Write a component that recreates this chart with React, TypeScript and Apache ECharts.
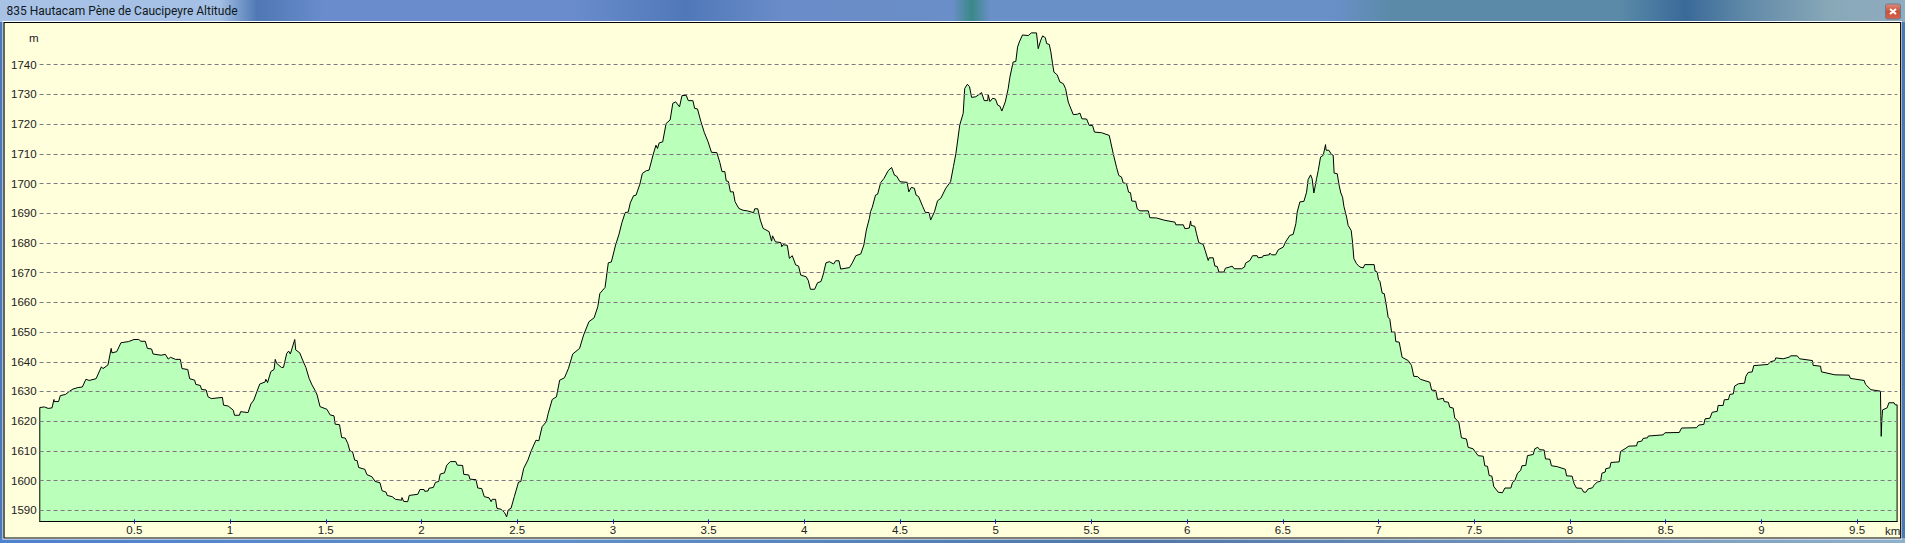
import React, { useEffect, useRef } from "react";
import * as echarts from "echarts";

const W = 1905;
const H = 543;

const titleText = "835 Hautacam Pène de Caucipeyre Altitude";
const yUnit = "m";
const xUnit = "km";

const xMin = 0.005;
const xMax = 9.71;
const yMin = 1586.3;
const yMax = 1754.2;

const yTicks = [1590, 1600, 1610, 1620, 1630, 1640, 1650, 1660, 1670, 1680, 1690, 1700, 1710, 1720, 1730, 1740];
const xTicks = [0.5, 1, 1.5, 2, 2.5, 3, 3.5, 4, 4.5, 5, 5.5, 6, 6.5, 7, 7.5, 8, 8.5, 9, 9.5];

const distances = [
  0.006, 0.03, 0.05, 0.07, 0.08, 0.081, 0.104, 0.113, 0.14, 0.162, 0.179, 0.204, 0.228, 0.247, 0.264, 0.3, 0.328, 0.336, 0.362, 0.379, 0.383, 0.408, 0.43, 0.47, 0.498, 0.523, 0.534, 0.557, 0.568, 0.59, 0.598, 0.64, 0.662, 0.677, 0.689, 0.715, 0.74, 0.749, 0.779, 0.789, 0.815, 0.821, 0.845, 0.851, 0.875, 0.885, 0.902, 0.96, 0.966, 0.99,
  1.017, 1.023, 1.049, 1.055, 1.094, 1.109, 1.124, 1.14, 1.155, 1.183, 1.187, 1.196, 1.213, 1.23, 1.236, 1.243, 1.268, 1.279, 1.296, 1.306, 1.315, 1.338, 1.343, 1.364, 1.379, 1.396, 1.413, 1.428, 1.443, 1.455, 1.47, 1.506, 1.523, 1.543, 1.549, 1.572, 1.583, 1.602, 1.615, 1.626, 1.64, 1.651, 1.664, 1.672, 1.704, 1.715, 1.741, 1.758, 1.783, 1.794, 1.815, 1.821, 1.847, 1.864, 1.896, 1.898, 1.907, 1.928, 1.936, 1.981, 1.992,
  2.013, 2.017, 2.034, 2.039, 2.062, 2.073, 2.09, 2.098, 2.12, 2.132, 2.151, 2.179, 2.187, 2.215, 2.221, 2.247, 2.253, 2.285, 2.294, 2.315, 2.328, 2.353, 2.364, 2.37, 2.387, 2.394, 2.417, 2.434, 2.445, 2.453, 2.468, 2.485, 2.507, 2.519, 2.534, 2.556, 2.573, 2.598, 2.613, 2.63, 2.652, 2.662, 2.683, 2.705, 2.722, 2.747, 2.768, 2.79, 2.826, 2.847, 2.875, 2.902,
  2.921, 2.932, 2.959, 2.976, 2.992, 3.014, 3.031, 3.047, 3.064, 3.08, 3.091, 3.108, 3.121, 3.141, 3.154, 3.174, 3.189, 3.211, 3.225, 3.233, 3.242, 3.26, 3.278, 3.299, 3.313, 3.328, 3.348, 3.361, 3.383, 3.394, 3.418, 3.427, 3.442, 3.46, 3.478, 3.497, 3.515, 3.543, 3.559, 3.57, 3.585, 3.592, 3.603, 3.614, 3.629, 3.638, 3.658, 3.68, 3.702, 3.735, 3.741, 3.757, 3.77, 3.785, 3.816, 3.829, 3.834, 3.849, 3.878, 3.882, 3.889, 3.911, 3.922, 3.937, 3.955, 3.97, 3.981,
  4.01, 4.021, 4.032, 4.054, 4.069, 4.087, 4.098, 4.113, 4.131, 4.153, 4.164, 4.181, 4.19, 4.236, 4.251, 4.269, 4.295, 4.311, 4.324, 4.34, 4.346, 4.355, 4.372, 4.383, 4.399, 4.416, 4.438, 4.456, 4.471, 4.482, 4.5, 4.537, 4.546, 4.559, 4.575, 4.584, 4.597, 4.619, 4.632, 4.652, 4.66, 4.68, 4.696, 4.713, 4.739, 4.764, 4.779, 4.792, 4.812, 4.83, 4.838, 4.852, 4.863, 4.874, 4.896, 4.926, 4.94, 4.958, 4.961, 4.97, 4.984, 4.999,
  5.01, 5.021, 5.032, 5.05, 5.065, 5.074, 5.091, 5.105, 5.114, 5.123, 5.14, 5.17, 5.186, 5.213, 5.222, 5.234, 5.245, 5.259, 5.266, 5.28, 5.288, 5.297, 5.304, 5.321, 5.335, 5.353, 5.365, 5.379, 5.405, 5.426, 5.44, 5.45, 5.475, 5.488, 5.506, 5.516, 5.553, 5.593, 5.614, 5.631, 5.643, 5.657, 5.666, 5.683, 5.694, 5.704, 5.711, 5.731, 5.739, 5.753, 5.797, 5.805, 5.84, 5.884, 5.936, 5.941, 5.98, 5.988,
  6.011, 6.018, 6.021, 6.04, 6.049, 6.061, 6.084, 6.094, 6.11, 6.115, 6.136, 6.145, 6.157, 6.166, 6.192, 6.2, 6.223, 6.235, 6.246, 6.284, 6.3, 6.305, 6.328, 6.342, 6.366, 6.371, 6.394, 6.397, 6.429, 6.432, 6.441, 6.462, 6.476, 6.502, 6.514, 6.536, 6.554, 6.568, 6.575, 6.589, 6.61, 6.624, 6.632, 6.645, 6.653, 6.662, 6.676, 6.685, 6.697, 6.711, 6.723, 6.726, 6.74, 6.754, 6.763, 6.768, 6.784, 6.794, 6.803, 6.812, 6.819, 6.833, 6.841, 6.857, 6.864, 6.871, 6.885, 6.902, 6.92, 6.928, 6.977, 6.982, 6.993,
  7.0, 7.007, 7.019, 7.03, 7.042, 7.05, 7.059, 7.068, 7.085, 7.09, 7.108, 7.123, 7.155, 7.172, 7.184, 7.204, 7.219, 7.268, 7.277, 7.299, 7.308, 7.338, 7.343, 7.364, 7.372, 7.39, 7.398, 7.419, 7.433, 7.459, 7.468, 7.494, 7.52, 7.547, 7.555, 7.569, 7.578, 7.592, 7.602, 7.625, 7.647, 7.66, 7.691, 7.7, 7.712, 7.726, 7.742, 7.749, 7.769, 7.778, 7.808, 7.816, 7.832, 7.842, 7.865, 7.872, 7.895, 7.903, 7.933, 7.976, 7.982,
  8.011, 8.022, 8.034, 8.06, 8.072, 8.083, 8.095, 8.118, 8.125, 8.142, 8.16, 8.167, 8.184, 8.187, 8.208, 8.214, 8.257, 8.264, 8.287, 8.308, 8.348, 8.353, 8.375, 8.382, 8.405, 8.409, 8.487, 8.496, 8.571, 8.583, 8.661, 8.673, 8.699, 8.706, 8.731, 8.743, 8.769, 8.774, 8.8, 8.806, 8.828, 8.835, 8.853, 8.86, 8.88, 8.912, 8.919, 8.931, 8.952, 8.96,
  9.035, 9.047, 9.07, 9.075, 9.114, 9.148, 9.152, 9.187, 9.2, 9.267, 9.27, 9.309, 9.314, 9.384, 9.458, 9.465, 9.537, 9.544, 9.572, 9.622, 9.624, 9.626, 9.629, 9.633, 9.657, 9.666, 9.693, 9.699, 9.709,
];

const altitudes = [
  1624.6, 1624.8, 1624.3, 1624.5, 1627.3, 1626.6, 1626.6, 1628.6, 1629, 1630.1, 1630.8, 1631.3, 1631.5, 1634.1, 1633.7, 1634.3, 1638.3, 1637.7, 1638.9, 1644.5, 1643, 1643.4, 1646.4, 1646.8, 1647.5, 1647.5, 1646.9, 1646.9, 1644.5, 1644.3, 1642.6, 1642.2, 1642.5, 1640.9, 1641.5, 1640.8, 1640.8, 1637.7, 1637.4, 1634.3, 1633.8, 1632.4, 1632, 1630.7, 1630.5, 1628.2, 1627.6, 1628, 1625.4, 1625.1,
  1623.7, 1622, 1622, 1623.2, 1622.9, 1625.8, 1627.1, 1629.9, 1632.5, 1633.2, 1634.1, 1633, 1636.7, 1637.4, 1640.8, 1639.5, 1638.1, 1638.1, 1642.8, 1643.6, 1642.6, 1647.5, 1644, 1643, 1640.6, 1638.1, 1634.4, 1632.2, 1630.5, 1628.8, 1624.9, 1624, 1622.1, 1621.8, 1619, 1618.8, 1614.5, 1614.3, 1612.5, 1610, 1609.7, 1606.9, 1606.7, 1604.4, 1603.8, 1602, 1601.3, 1599.7, 1599.3, 1596.6, 1596.1, 1595, 1594.6, 1593.7, 1593.4, 1594.3, 1593, 1592.9, 1595, 1595.4, 1597,
  1597, 1596.4, 1596.5, 1597.4, 1597.7, 1599.4, 1599.7, 1602.2, 1602.6, 1605.2, 1606.4, 1606.4, 1605.2, 1605.1, 1602.1, 1601.9, 1600.5, 1600.3, 1597.5, 1597.3, 1594.6, 1594.2, 1592.9, 1593.7, 1593.7, 1590.7, 1590.3, 1589.2, 1587.8, 1590.1, 1590.7, 1594.6, 1599.5, 1599.7, 1604.1, 1606.9, 1610, 1613.6, 1613.4, 1618.1, 1619.8, 1622.6, 1627.3, 1628.2, 1633.8, 1634.6, 1637.8, 1642.6, 1644.5, 1649, 1653.5, 1654.8,
  1658.5, 1663, 1665, 1673.3, 1673.6, 1679.3, 1682.7, 1686.8, 1690.2, 1690.4, 1693.5, 1695.9, 1696.1, 1699.8, 1703.4, 1704.3, 1704.5, 1709.9, 1712.9, 1711.8, 1713.7, 1714, 1720.2, 1721.4, 1727, 1727.5, 1725.8, 1729.6, 1729.7, 1727.9, 1727.9, 1725.3, 1725.1, 1720.8, 1717.1, 1714.1, 1710.5, 1710.4, 1707, 1704, 1704, 1700.9, 1700.7, 1697.2, 1697.2, 1693.9, 1691.6, 1691, 1690.8, 1690.2, 1691.5, 1691.5, 1687.7, 1684.9, 1683.8, 1680.6, 1682.4, 1680.4, 1680.1, 1678.7, 1679.4, 1679.2, 1674.8, 1675.7, 1672.6, 1672.2, 1669.2,
  1668.6, 1667.3, 1664.4, 1664.4, 1666.6, 1667, 1669.2, 1673.3, 1673.7, 1672.9, 1674, 1674, 1671.2, 1671.7, 1673.3, 1675.7, 1676.3, 1679.3, 1684.3, 1688.3, 1690.5, 1692, 1696.1, 1696.4, 1700.3, 1701.7, 1704.3, 1705.4, 1702.8, 1702.5, 1700.6, 1700.4, 1697.2, 1698.7, 1698.4, 1696.1, 1695.6, 1692.2, 1690.3, 1690.2, 1687.7, 1690.5, 1694.2, 1695, 1698.4, 1700.6, 1705.7, 1710.1, 1719.7, 1723.6, 1732, 1733.4, 1732.6, 1729, 1729.2, 1730.6, 1727.9, 1727.9, 1729.8, 1727.6, 1728.7, 1728.4,
  1726.4, 1726.1, 1724.4, 1727.5, 1731.9, 1735.8, 1740.9, 1741.1, 1745.9, 1747.6, 1750, 1749.8, 1750.7, 1750.7, 1745.4, 1748, 1749.7, 1749.1, 1747.1, 1746.8, 1744.3, 1740.3, 1737.5, 1736.6, 1734.2, 1733.6, 1731.9, 1727.4, 1723.2, 1723.3, 1723.7, 1721.8, 1721.7, 1719.6, 1719.5, 1717.3, 1717.1, 1716.2, 1710, 1705.5, 1702.7, 1702.2, 1700.2, 1700, 1697.1, 1696.9, 1694.1, 1694, 1691.5, 1690.8, 1690.8, 1688.5, 1688.4, 1687.6, 1687, 1686.1, 1686.1, 1684.8,
  1685, 1687.4, 1685.9, 1685.6, 1683.1, 1680.1, 1679.5, 1677.5, 1674.1, 1675, 1675, 1672.2, 1672.1, 1670.2, 1670.2, 1671.5, 1671.9, 1672.2, 1671.3, 1671.3, 1671.9, 1673.2, 1674.1, 1675.7, 1675.7, 1675, 1675.2, 1675.7, 1676, 1676.6, 1676, 1676, 1677.7, 1678.6, 1680.3, 1682.5, 1682.9, 1686.5, 1690.4, 1693.8, 1694, 1697.1, 1701.3, 1702.9, 1701.6, 1696.8, 1701.6, 1704.4, 1708.9, 1709.5, 1713.1, 1711.2, 1711.2, 1709.8, 1709.5, 1703.5, 1703.3, 1699.4, 1696.8, 1695.4, 1692.3, 1688.7, 1685.9, 1684.2, 1680.3, 1674.7, 1673, 1671.9, 1671.6, 1672.7, 1672.7, 1670.5, 1670.2,
  1667.6, 1667.1, 1663.1, 1662.9, 1658.4, 1655, 1654.3, 1650, 1650, 1646.8, 1646.6, 1641.5, 1640.4, 1638.8, 1635.1, 1635, 1634.1, 1633.1, 1630.5, 1630.3, 1627.3, 1627.7, 1626.6, 1626.4, 1624.7, 1624.4, 1621.1, 1619.7, 1614.4, 1614, 1611.2, 1610.7, 1608.4, 1608.2, 1605, 1604.8, 1601.7, 1601.5, 1598, 1596.1, 1595.9, 1597.5, 1597.5, 1599.4, 1600, 1602.5, 1603.4, 1605, 1605.1, 1608.4, 1608.8, 1610.7, 1611.2, 1610.4, 1610.3, 1607.3, 1607.2, 1605, 1604.7, 1603.8, 1601.6,
  1601.5, 1598.9, 1597.5, 1597.4, 1596.1, 1596.1, 1597.2, 1597.6, 1598.4, 1599.5, 1599.8, 1602.5, 1602.9, 1604, 1604.3, 1606.1, 1606.3, 1609.8, 1610.7, 1611.6, 1611.7, 1613, 1613.3, 1614.2, 1614.4, 1615, 1615.4, 1616.1, 1616.2, 1617.7, 1617.8, 1618.7, 1618.9, 1620.8, 1621, 1623, 1623.3, 1625.3, 1625.3, 1627.2, 1627.3, 1629, 1629.2, 1631.8, 1632.6, 1632.8, 1635.1, 1636.4, 1636.6, 1638.7,
  1639.1, 1640, 1640.4, 1641.3, 1641, 1641.6, 1642, 1642, 1641, 1640.4, 1638.8, 1638.5, 1636.6, 1635.6, 1635.5, 1634.4, 1633.7, 1632.4, 1630.6, 1630.1, 1621.9, 1614.9, 1620.2, 1623.8, 1624.5, 1626.2, 1626.2, 1625.5, 1625.5,
];

const profile = [
  [distances[0], yMin],
  ...distances.map((d, i) => [d, altitudes[i]]),
  [distances[distances.length - 1], yMin],
];

function closeButton() {
  return [
    { type: "rect", z: 1, shape: { x: 1885.5, y: 4, width: 15, height: 15, r: 2 }, style: { fill: { type: "linear", x: 0, y: 0, x2: 0, y2: 1, colorStops: [{ offset: 0, color: "#e08a78" }, { offset: 0.5, color: "#c8533c" }, { offset: 1, color: "#d8604a" }] }, stroke: "#6b7a8c", lineWidth: 1 } },
    { type: "line", z: 2, shape: { x1: 1890, y1: 9, x2: 1896, y2: 14 }, style: { stroke: "#ffffff", lineWidth: 2 } },
    { type: "line", z: 2, shape: { x1: 1896, y1: 9, x2: 1890, y2: 14 }, style: { stroke: "#ffffff", lineWidth: 2 } },
  ];
}

export default function App() {
  const ref = useRef<HTMLDivElement>(null);
  useEffect(() => {
    const chart = echarts.init(ref.current!, undefined, { renderer: "svg" });
    const labelFont = { fontFamily: "Liberation Sans", fontSize: 11.5, color: "#222222" };
    chart.setOption({
      animation: false,
      backgroundColor: "#4a78b8",
      graphic: [
        { type: "rect", z: 0, shape: { x: 0, y: 0, width: W, height: 22 }, style: { fill: { type: "linear", x: 0, y: 0, x2: 1, y2: 0, colorStops: [
          { offset: 0, color: "#a8c2e6" }, { offset: 0.115, color: "#a4c0e4" }, { offset: 0.135, color: "#4f78b4" }, { offset: 0.17, color: "#6a8ccc" }, { offset: 0.3, color: "#6a8ccc" }, { offset: 0.36, color: "#5078b8" }, { offset: 0.41, color: "#6a8cc8" }, { offset: 0.5, color: "#6a8ec8" }, { offset: 0.51, color: "#3a8888" }, { offset: 0.52, color: "#6a90c8" }, { offset: 0.7, color: "#6a90c8" }, { offset: 0.73, color: "#5a8aa8" }, { offset: 0.85, color: "#5a8aa8" }, { offset: 0.885, color: "#3a6a98" }, { offset: 0.915, color: "#5f88a8" }, { offset: 0.96, color: "#88a8b8" }, { offset: 1, color: "#90acc0" } ] } } },
        { type: "rect", z: 0, shape: { x: 0, y: 538, width: W, height: 5 }, style: { fill: { type: "linear", x: 0, y: 0, x2: 1, y2: 0, colorStops: [
          { offset: 0, color: "#4f82cc" }, { offset: 0.3, color: "#5f8fc8" }, { offset: 0.6, color: "#4f78a8" }, { offset: 1, color: "#8fb0cc" } ] } } },
        { type: "rect", z: 0, shape: { x: 2.5, y: 21, width: 1899.5, height: 518.5 }, style: { fill: "#ffffff" } },
        { type: "rect", z: 1, shape: { x: 4, y: 22.5, width: 1896.7, height: 515.5 }, style: { fill: "#FFFFDC", stroke: "#000000", lineWidth: 1.2 } },
        ...closeButton(),
        { type: "text", z: 5, x: 6.5, y: 11, style: { text: titleText, fill: "#101820", font: "12px Roboto", textVerticalAlign: "middle" } },
        { type: "text", z: 5, x: 29, y: 37.5, style: { text: yUnit, fill: "#222222", font: "11.5px 'Liberation Sans'", textVerticalAlign: "middle" } },
        { type: "text", z: 5, x: 1885, y: 530.5, style: { text: xUnit, fill: "#222222", font: "11.5px 'Liberation Sans'", textVerticalAlign: "middle" } },
      ],
      grid: { left: 39.6, right: W - 1897.3, top: 22.5, bottom: H - 521.3, show: false },
      xAxis: [
        {
          type: "value", min: xMin, max: xMax, z: 4,
          splitLine: { show: false },
          axisLine: { show: true, lineStyle: { color: "#000000", width: 1 } },
          axisTick: { show: true, customValues: xTicks, length: 2.5, lineStyle: { color: "#2020e0", width: 1 } },
          axisLabel: { customValues: xTicks, margin: 3, showMinLabel: true, showMaxLabel: true, formatter: (v: number) => String(v), ...labelFont },
        },
        {
          type: "value", min: xMin, max: xMax, position: "bottom", z: 4,
          splitLine: { show: false },
          axisLine: { show: false },
          axisTick: { show: true, inside: true, customValues: xTicks, length: 2, lineStyle: { color: "#2020e0", width: 1 } },
          axisLabel: { show: false },
        },
      ],
      yAxis: {
        type: "value", min: yMin, max: yMax, z: 3,
        axisLine: { show: false },
        axisTick: { show: false, customValues: yTicks },
        axisLabel: { customValues: yTicks, margin: 3, formatter: (v: number) => String(v), ...labelFont },
        splitLine: { show: true, lineStyle: { color: "#807880", width: 1, type: [4, 3] } },
      },
      series: [
        {
          type: "line", data: profile, xAxisIndex: 0, z: 2, showSymbol: false, symbol: "none", smooth: false, silent: true, clip: true,
          lineStyle: { color: "#000000", width: 1 },
          areaStyle: { color: "#BAFFBA", opacity: 1, origin: "start" },
        },
      ],
    });
    return () => chart.dispose();
  }, []);
  return <div ref={ref} style={{ position: "absolute", left: 0, top: 0, width: W, height: H }} />;
}
